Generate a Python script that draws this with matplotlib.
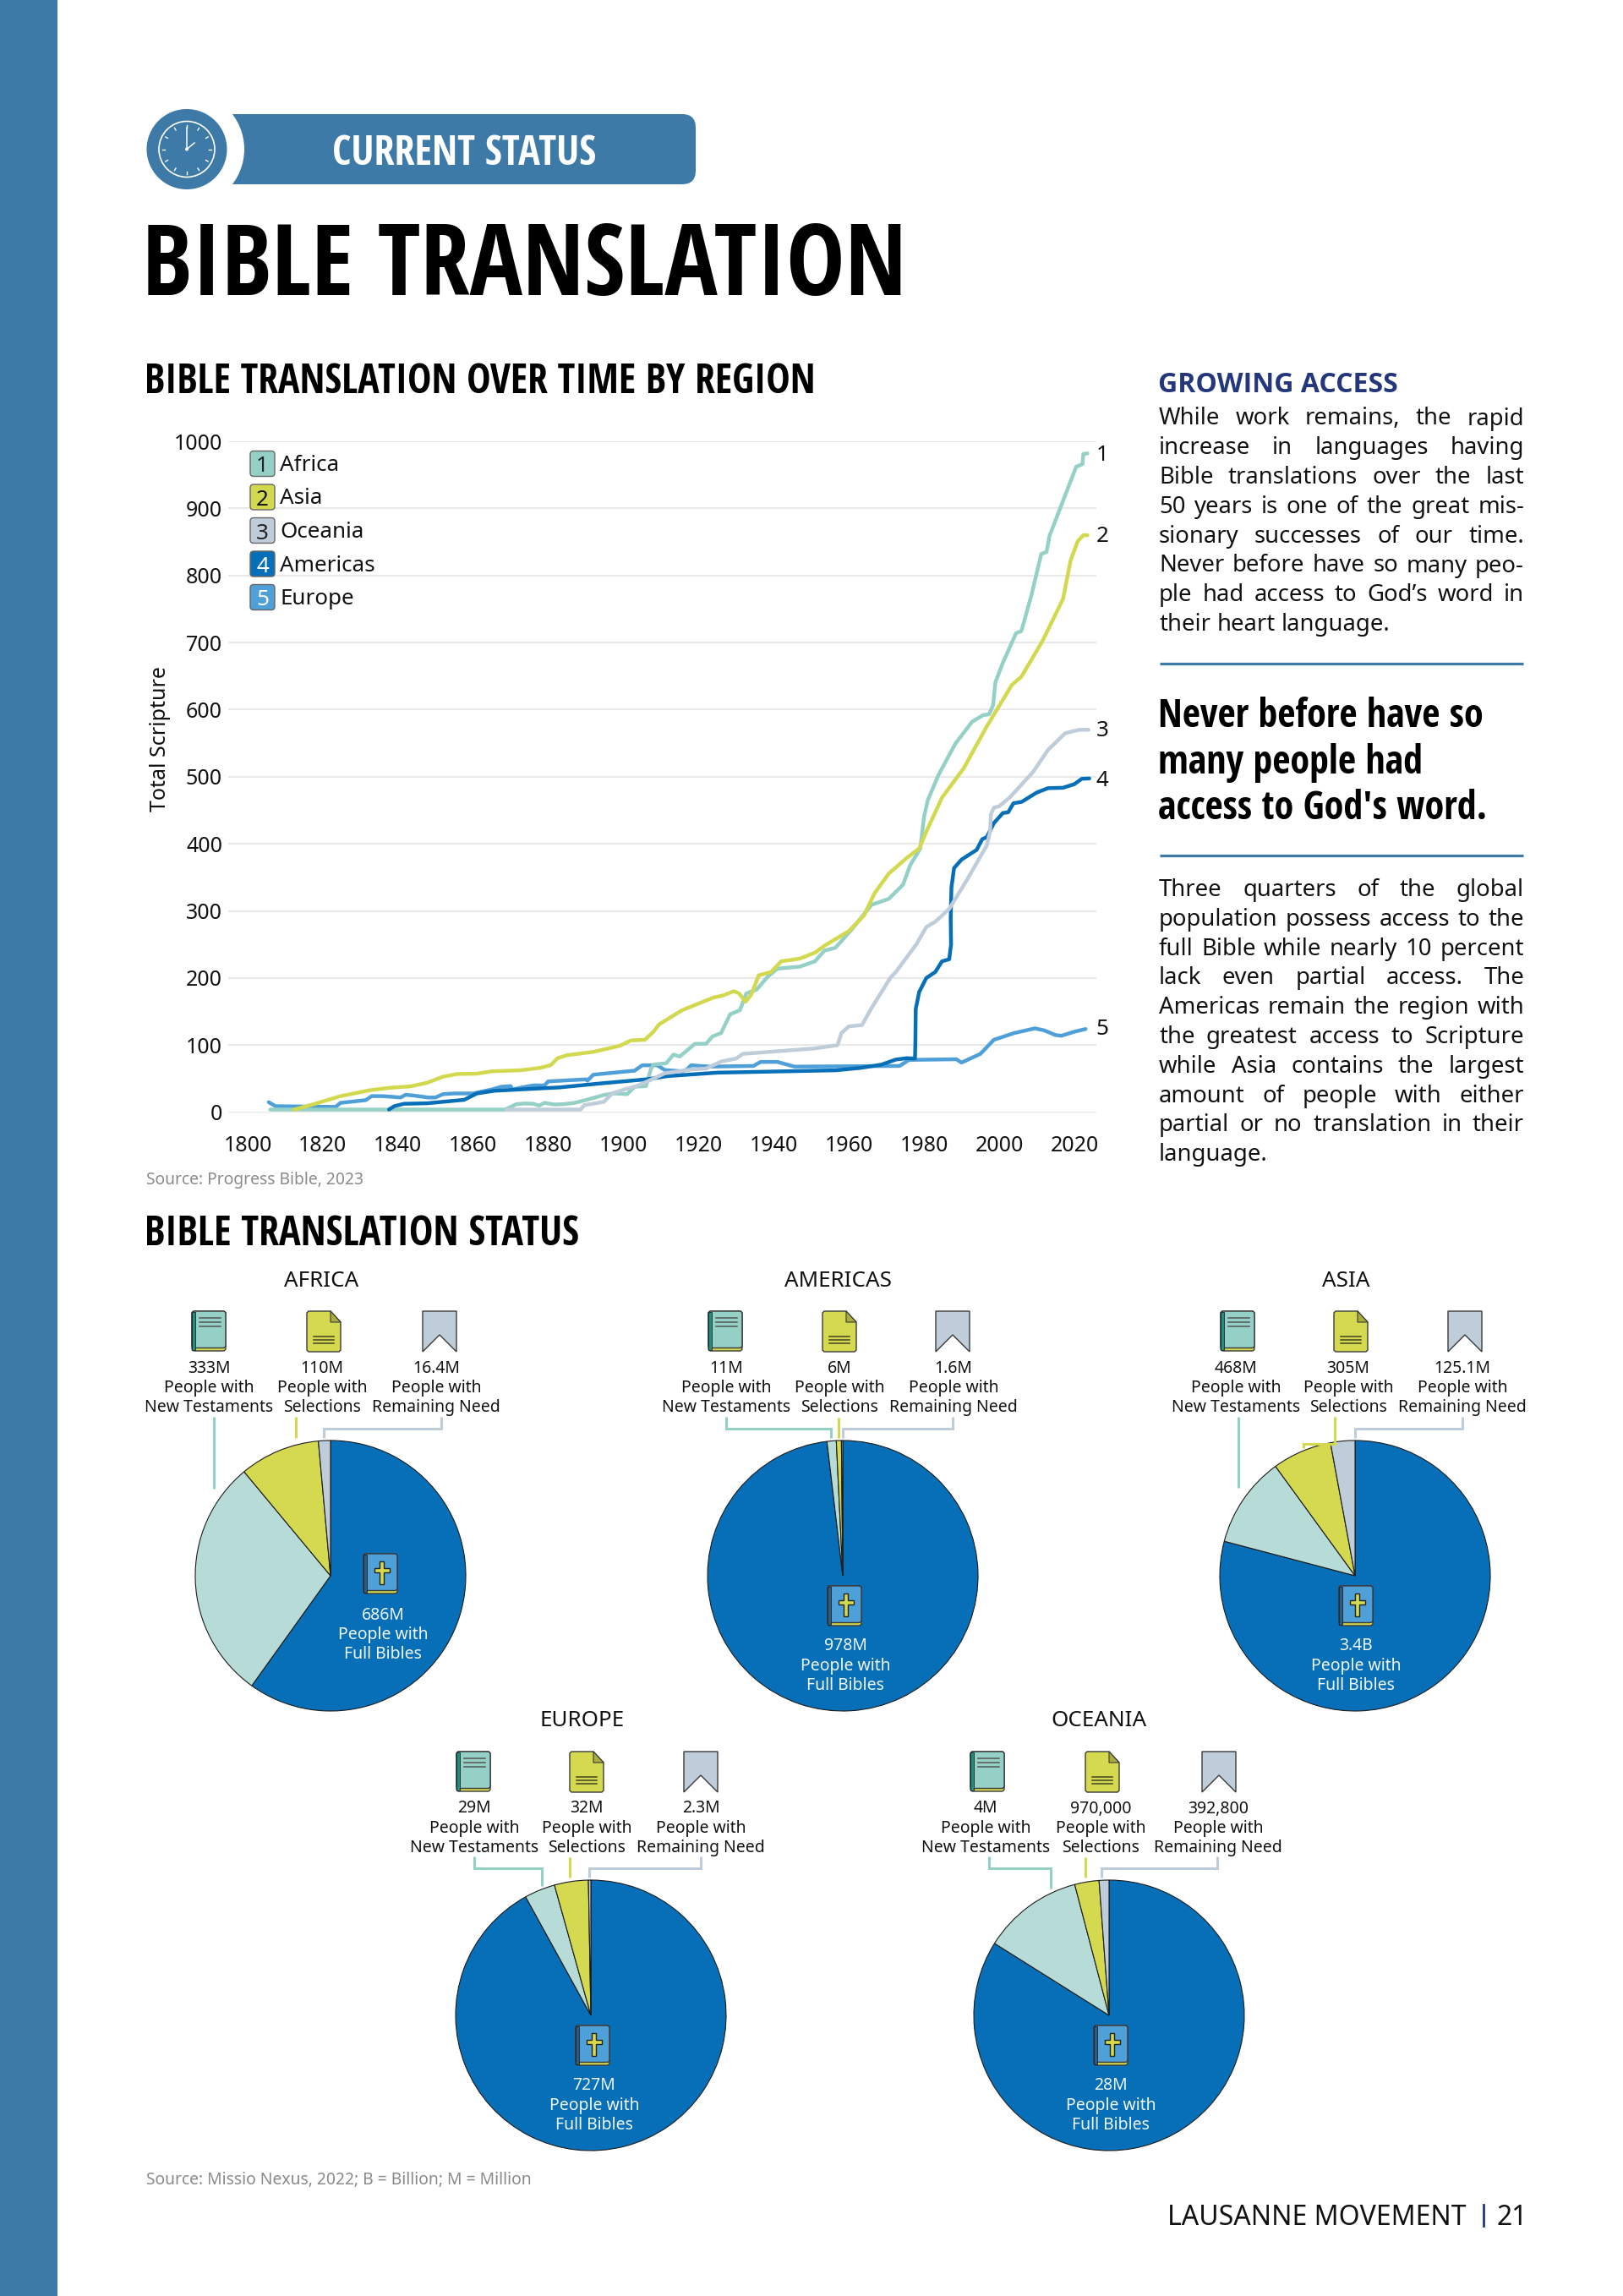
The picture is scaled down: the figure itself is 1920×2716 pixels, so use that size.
import matplotlib
matplotlib.use("Agg")
import matplotlib.pyplot as plt
from matplotlib import font_manager as fm
from matplotlib.patches import Circle, FancyBboxPatch, Polygon, Rectangle
import numpy as np

W, H = 1920, 2716
BLUE_BAR = "#3d7aa8"
C_AFR, C_ASI, C_OCE, C_AME, C_EUR = "#95d0c6", "#d3d94f", "#bfccd9", "#066fb7", "#4f9fd8"
C_NT = "#b7dcd7"

BODY = ["Noto Sans", "DejaVu Sans"]
names = sorted({f.name for f in fm.fontManager.ttflist})
COND = ["Noto Sans"]
for pick in ("Noto Sans Condensed", "Open Sans Condensed", "Roboto Condensed", "Liberation Sans Narrow"):
    if pick in names:
        COND = [pick]
        break


def has_bold(family):
    for f in fm.fontManager.ttflist:
        w = f.weight if isinstance(f.weight, int) else {"bold": 700, "semibold": 600, "demibold": 600}.get(f.weight, 400)
        if f.name == family and w >= 600 and f.style == "normal":
            return True
    return False


HEAD = ["DejaVu Sans"]
for pick in ("Noto Sans", "Open Sans", "Lato", "Roboto", "Inter"):
    if has_bold(pick):
        HEAD = [pick]
        break

# ---- line chart data -------------------------------------------------
africa_years = [1806, 1868.5, 1871.5, 1873.6, 1876, 1877.6, 1879, 1881.6, 1884, 1887, 1889.6, 1895, 1897.6, 1901, 1903, 1906, 1907.3, 1908, 1911.4, 1913.3, 1915, 1919, 1922, 1923.7, 1926, 1928.4, 1931, 1932.7, 1935.5, 1938.4, 1941, 1947, 1951, 1953.5, 1956.4, 1960.7, 1966, 1970.6, 1974.4, 1976.3, 1979, 1980, 1981, 1983.8, 1988.3, 1992.8, 1995.8, 1997.3, 1998.4, 1999, 2001, 2004.5, 2005.9, 2008.6, 2011.2, 2012.6, 2013.4, 2020.5, 2022.2, 2022.4, 2023.5]
africa_vals = [4, 4, 12, 13, 12.6, 10, 14, 11.5, 12, 14, 17.6, 26, 28, 27, 38, 39, 64, 71, 73, 86, 83, 102, 102, 113, 118, 146, 152, 177, 183, 202, 214, 217, 225, 241, 245, 272, 309, 318, 339, 368, 393, 440, 465, 502, 549, 582, 592, 593, 607, 641, 670, 714, 717, 771, 832, 835, 859, 962, 966, 981, 982]
asia_years = [1812.3, 1817.6, 1824.7, 1832.7, 1838, 1843.4, 1847.8, 1852, 1855.8, 1861, 1865, 1872.7, 1877.7, 1880.6, 1882.5, 1885, 1892, 1899, 1902, 1905.7, 1908, 1909.5, 1915.6, 1924, 1926.5, 1929.4, 1930.8, 1932.5, 1934, 1936, 1939.3, 1942, 1947, 1951, 1953.6, 1960, 1964, 1966.8, 1970.6, 1975.4, 1978.7, 1981, 1984.8, 1990.6, 1996.6, 2003.4, 2005.9, 2011.5, 2017, 2019, 2020.9, 2022.4, 2023.5]
asia_vals = [3.8, 12, 24, 33, 36.5, 38.6, 44, 53, 57, 57.5, 61, 62.6, 66, 70, 80.6, 85, 90, 99, 107, 108, 120, 131, 152, 171, 174, 180.5, 177, 164.6, 175, 204, 209, 225, 229, 238, 248.5, 270, 293, 326, 355.6, 379, 393, 423, 469, 513, 574, 637, 649, 702, 765, 822, 851, 860, 860]
oceania_years = [1869, 1888.6, 1889.6, 1894.8, 1897, 1900, 1903, 1906, 1911, 1918.5, 1922, 1926, 1930, 1931.8, 1950.7, 1957, 1958, 1960, 1963.5, 1965.9, 1971, 1972.5, 1978, 1980.6, 1983, 1986.7, 1991.5, 1996.7, 1997.6, 1997.8, 1998.6, 2000, 2002.8, 2009, 2013, 2017.6, 2021.3, 2023.8]
oceania_vals = [4, 4, 10.5, 15.5, 28, 33.6, 38, 45, 58, 64, 65, 75.6, 80, 87, 95, 100, 118, 128, 130, 154, 200, 209, 250.6, 276, 284, 303, 347, 397.5, 418.5, 444, 454, 456, 469, 507, 540, 565, 570, 570]
americas_years = [1837.6, 1839, 1841.6, 1847.8, 1857.6, 1861, 1865.6, 1883, 1894, 1906, 1912, 1925, 1956.4, 1963, 1968.7, 1972.5, 1975.4, 1977.6, 1977.7, 1977.8, 1978.7, 1980.6, 1983, 1984.8, 1986.7, 1987.2, 1987.1, 1987.3, 1988, 1990, 1994, 1995.5, 1996.7, 1998.6, 2001, 2002.4, 2003.8, 2006, 2010, 2013, 2017, 2020, 2022, 2024]
americas_vals = [4, 9, 12.6, 13.4, 18.5, 28, 32, 37, 43, 49, 54, 59, 62.5, 66, 71, 78.5, 80.6, 80, 104, 154, 179, 200, 209, 225, 228, 250, 288, 335, 364, 376.6, 391, 407, 410, 431, 446, 447, 460.5, 462.6, 476.5, 483, 483.6, 489, 497, 497.5]
europe_years = [1805.6, 1807.4, 1823.4, 1824.7, 1831.4, 1833, 1836, 1840.7, 1842, 1844, 1848, 1850, 1852, 1855, 1860, 1865, 1867.5, 1870, 1870.4, 1874, 1876, 1879, 1880, 1890, 1890.4, 1892, 1903, 1905, 1909, 1911, 1915.6, 1917, 1918, 1923, 1934.6, 1936.5, 1941, 1945.5, 1973.5, 1976, 1988.6, 1990, 1995, 1998.6, 2004, 2009.5, 2012, 2015, 2016.6, 2020, 2023]
europe_vals = [15, 9, 8, 14, 18, 24, 24, 22, 26, 25, 22, 22, 27, 28, 28, 34, 38, 39, 34, 38, 40, 40, 46, 49, 47, 56, 62, 70, 70, 63, 61, 64, 70, 68, 69, 75, 75, 68, 69, 78, 79, 74, 87, 108, 118, 125, 122, 115, 114, 120, 124]
region_names = ["Africa", "Asia", "Oceania", "Americas", "Europe"]
y_ticks = [0, 100, 200, 300, 400, 500, 600, 700, 800, 900, 1000]
x_ticks = [1800, 1820, 1840, 1860, 1880, 1900, 1920, 1940, 1960, 1980, 2000, 2020]

# ---- pie data (people, millions): full, NT, selections, remaining ----
pie_regions = ["AFRICA", "AMERICAS", "ASIA", "EUROPE", "OCEANIA"]
africa_pie = [686, 333, 110, 16.4]
americas_pie = [978, 11, 6, 1.6]
asia_pie = [3400, 468, 305, 125.1]
europe_pie = [727, 29, 32, 2.3]
oceania_pie = [28, 4, 0.97, 0.3928]
africa_labels = ["686M", "333M", "110M", "16.4M"]
americas_labels = ["978M", "11M", "6M", "1.6M"]
asia_labels = ["3.4B", "468M", "305M", "125.1M"]
europe_labels = ["727M", "29M", "32M", "2.3M"]
oceania_labels = ["28M", "4M", "970,000", "392,800"]

fig = plt.figure(figsize=(W / 100, H / 100), dpi=100, facecolor="white")


def axpx(x0, y0, x1, y1, **kw):
    return fig.add_axes([x0 / W, 1 - y1 / H, (x1 - x0) / W, (y1 - y0) / H], **kw)


def pt(px):
    return px * 0.72


# ---- line chart ------------------------------------------------------
PX_PER_YEAR = 4.445
ax = axpx(270, 522, 1297, 1315.7)
ax.set_xlim(1800 - (293 - 270) / PX_PER_YEAR, 1800 + (1297 - 293) / PX_PER_YEAR)
ax.set_ylim(0, 1000)
for s in ax.spines.values():
    s.set_visible(False)
ax.set_yticks(y_ticks)
ax.set_xticks(x_ticks)
ax.grid(axis="y", color="#e8e8e8", lw=1.5)
ax.set_axisbelow(True)
ax.tick_params(length=0, labelsize=pt(25), labelcolor="#111111", pad=5)
ax.tick_params(axis="x", pad=19.5)
for lab in ax.get_xticklabels() + ax.get_yticklabels():
    lab.set_family(BODY)
ax.patch.set_alpha(0)
series = [(europe_years, europe_vals, C_EUR, "5", 0), (africa_years, africa_vals, C_AFR, "1", -2),
          (asia_years, asia_vals, C_ASI, "2", -1), (americas_years, americas_vals, C_AME, "4", -3),
          (oceania_years, oceania_vals, C_OCE, "3", -1)]
for xs, ys, c, num, dy in series:
    ax.plot(xs, ys, color=c, lw=3.2, solid_capstyle="round", solid_joinstyle="round", clip_on=False)
    ax.annotate(num, xy=(2023.5, ys[-1]), xytext=(pt(10), pt(dy)), textcoords="offset points",
                fontsize=pt(26), family=BODY, color="#111111", va="center", ha="left",
                annotation_clip=False)

# ---- pies ------------------------------------------------------------
PIE_COLORS = [C_AME, C_NT, "#d4d94f", C_OCE]
R = 160
pie_centres = {"AFRICA": (391, 1864), "AMERICAS": (997, 1864), "ASIA": (1603, 1864),
               "EUROPE": (699, 2384), "OCEANIA": (1312, 2384)}
pie_values = {"AFRICA": africa_pie, "AMERICAS": americas_pie, "ASIA": asia_pie,
              "EUROPE": europe_pie, "OCEANIA": oceania_pie}
for name in pie_regions:
    cx, cy = pie_centres[name]
    pa = axpx(cx - R - 2, cy - R - 2, cx + R + 2, cy + R + 2)
    pa.pie(pie_values[name], startangle=90, counterclock=False, colors=PIE_COLORS, radius=1,
           wedgeprops=dict(edgecolor="#1c1c1c", linewidth=0.8))
    pa.set_xlim(-1.0125, 1.0125)
    pa.set_ylim(-1.0125, 1.0125)

# ---- page overlay ----------------------------------------------------
o = axpx(0, 0, W, H)
o.set_xlim(0, W)
o.set_ylim(H, 0)
o.axis("off")
o.patch.set_alpha(0)
o.add_patch(Rectangle((0, 0), 68, H, fc=BLUE_BAR, ec="none"))


def txt(x, y, s, px, fam=BODY, weight="normal", color="#111111", ha="left", va="baseline", **kw):
    return o.text(x, y, s, fontsize=pt(px), family=fam, weight=weight, color=color, ha=ha, va=va, **kw)


renderer = fig.canvas.get_renderer()


def measure(s, px, fam=BODY, weight="normal"):
    t = o.text(0, 0, s, fontsize=pt(px), family=fam, weight=weight)
    w = t.get_window_extent(renderer).width
    t.remove()
    return w


def fit(s, width, fam, weight="bold"):
    return 100 * width / measure(s, 100, fam, weight)


def justified(lines, x0, x1, y0, dy, px):
    space = measure("a a", px) - measure("aa", px)
    for i, line in enumerate(lines):
        words = line.split(" ")
        ws = [measure(w, px) for w in words]
        y = y0 + i * dy
        free = (x1 - x0) - sum(ws)
        is_last = i == len(lines) - 1
        gap = space if (is_last or len(words) == 1) else free / (len(words) - 1)
        x = x0
        for w, wd in zip(words, ws):
            txt(x, y, w, px)
            x += wd + gap


# header pill + clock
o.add_patch(FancyBboxPatch((250, 135), 573, 83, boxstyle="round,pad=0,rounding_size=16", fc=BLUE_BAR, ec="none"))
o.add_patch(Rectangle((240, 135), 30, 83, fc=BLUE_BAR, ec="none"))
o.add_patch(Circle((221, 176.5), 68, fc="white", ec="none", zorder=2))
o.add_patch(Circle((221, 176.5), 47.5, fc=BLUE_BAR, ec="none", zorder=3))
o.add_patch(Circle((221, 176.5), 33, fc="none", ec="white", lw=1.2, zorder=4))
for k in range(12):
    a = k * np.pi / 6
    o.plot([221 + 26 * np.sin(a), 221 + 29 * np.sin(a)], [176.5 - 26 * np.cos(a), 176.5 - 29 * np.cos(a)],
           color="white", lw=1.0, zorder=4)
o.plot([221, 221], [176.5, 151], color="white", lw=1.1, zorder=4)
o.plot([221, 230], [176.5, 169], color="white", lw=1.1, zorder=4)
o.add_patch(Circle((221, 176.5), 2, fc="white", ec="none", zorder=4))
ct = "CURRENT STATUS"
txt(549, 195, ct, fit(ct, 312, COND, "bold"), COND, "bold", "white", ha="center")

t0 = "BIBLE TRANSLATION"
txt(168, 349, t0, fit(t0, 904, COND), COND, "bold", "#000000")
t1 = "BIBLE TRANSLATION OVER TIME BY REGION"
txt(171, 465, t1, fit(t1, 793, COND), COND, "bold", "#000000")
t2 = "BIBLE TRANSLATION STATUS"
txt(171, 1473, t2, fit(t2, 514, COND), COND, "bold", "#000000")

# legend
leg_cols = [C_AFR, C_ASI, C_OCE, C_AME, C_EUR]
num_cols = ["#222222", "#111111", "#222222", "white", "white"]
for i, (nm, c) in enumerate(zip(region_names, leg_cols)):
    y = 533.5 + i * 39.5
    o.add_patch(FancyBboxPatch((296, y), 29, 30, boxstyle="round,pad=0,rounding_size=4", fc=c, ec="#666666", lw=1))
    txt(310.5, y + 15.5, str(i + 1), 26, color=num_cols[i], ha="center", va="center_baseline")
    txt(331, y + 14, nm, 26, va="center_baseline")

txt(189, 874, "Total Scripture", 25, ha="center", va="center", rotation=90)
txt(173, 1396, "Source: Progress Bible, 2023", 19.3, color="#8a8a8a", va="center")
txt(173, 2579, "Source: Missio Nexus, 2022; B = Billion; M = Million", 19.3, color="#8a8a8a", va="center")

# right column
ga = "GROWING ACCESS"
txt(1370, 464, ga, fit(ga, 283, HEAD), HEAD, "bold", "#25377c")
para1 = ["While work remains, the rapid", "increase in languages having", "Bible translations over the last",
         "50 years is one of the great mis-", "sionary successes of our time.", "Never before have so many peo-",
         "ple had access to God\u2019s word in", "their heart language."]
justified(para1, 1371, 1803, 502.5, 34.8, 27.5)
o.plot([1372, 1802], [784.5, 784.5], color=BLUE_BAR, lw=2.3, solid_capstyle="butt")
quote = ["Never before have so", "many people had", "access to God's word."]
qpx = fit(quote[2], 390, COND)
for i, q in enumerate(quote):
    txt(1370, 860.5 + i * 54.2, q, qpx, COND, "bold", "#000000")
o.plot([1372, 1802], [1012, 1012], color=BLUE_BAR, lw=2.3, solid_capstyle="butt")
para2 = ["Three quarters of the global", "population possess access to the", "full Bible while nearly 10 percent",
         "lack even partial access. The", "Americas remain the region with", "the greatest access to Scripture",
         "while Asia contains the largest", "amount of people with either", "partial or no translation in their",
         "language."]
justified(para2, 1371, 1803, 1060, 34.8, 27.5)

txt(1381, 2632, "LAUSANNE MOVEMENT", 32)
o.plot([1755, 1755], [2608, 2633], color="#25377c", lw=2)
txt(1770, 2632, "21", 32)


# icons
def rrect(x, y, w, h, fc, r=3, ec="#3a3a3a", lw=1.0, z=5):
    o.add_patch(FancyBboxPatch((x, y), w, h, boxstyle=f"round,pad=0,rounding_size={r}", fc=fc, ec=ec, lw=lw, zorder=z))


def book_base(cx, top, body, spine):
    w, h = 40, 47
    x = cx - w / 2
    rrect(x, top, w, h, "#d4d94f")
    rrect(x, top, w, h - 3.5, body)
    o.add_patch(Rectangle((x, top + 1), 3.5, h - 2, fc=spine, ec="#222222", lw=0.6, zorder=6))


def nt_icon(cx, top):
    book_base(cx, top, C_AFR, "#1f8f7f")
    for dy in (8, 13, 18):
        o.plot([cx - 11, cx + 14], [top + dy, top + dy], color="#555555", lw=1.1, zorder=7)


def doc_icon(cx, top):
    w, h = 40, 48
    x = cx - w / 2
    o.add_patch(Polygon([(x + 2, top), (x + w - 12, top), (x + w, top + 13), (x + w, top + h - 2), (x + w - 2, top + h),
                         (x + 2, top + h), (x, top + h - 2), (x, top + 2)], closed=True, fc="#d4d94f", ec="#3a3a3a", lw=1, zorder=5))
    o.add_patch(Polygon([(x + w - 12, top), (x + w, top + 13), (x + w - 12, top + 13)], closed=True, fc="#a8ad3e", ec="#3a3a3a", lw=0.8, zorder=6))
    for dy in (30, 34, 38):
        o.plot([cx - 12, cx + 12], [top + dy, top + dy], color="#444422", lw=1.1, zorder=7)


def mark_icon(cx, top):
    w, h = 40, 48
    x = cx - w / 2
    o.add_patch(Polygon([(x, top), (x + w, top), (x + w, top + h), (cx, top + 28), (x, top + h)], closed=True,
                        fc=C_OCE, ec="#3a3a3a", lw=1, zorder=5))


def bible_icon(cx, top):
    book_base(cx, top, C_EUR, "#2a5d86")
    c = cx + 1.5
    cross = [(c - 2.8, top + 9), (c + 2.8, top + 9), (c + 2.8, top + 17), (c + 9, top + 17), (c + 9, top + 22),
             (c + 2.8, top + 22), (c + 2.8, top + 36), (c - 2.8, top + 36), (c - 2.8, top + 22), (c - 9, top + 22),
             (c - 9, top + 17), (c - 2.8, top + 17)]
    o.add_patch(Polygon(cross, closed=True, fc="#d4d94f", ec="#222222", lw=1, zorder=7))


def connector(pts, color):
    xs, ys = zip(*pts)
    o.plot(xs, ys, color=color, lw=2.2, solid_joinstyle="miter", solid_capstyle="butt", zorder=4)


# titles, icon columns, labels, connectors, centre icon
labels_by_region = {"AFRICA": africa_labels, "AMERICAS": americas_labels, "ASIA": asia_labels,
                    "EUROPE": europe_labels, "OCEANIA": oceania_labels}
layout = {
    "AFRICA": dict(title=(380, 1512), base=1616, icons=(247, 383, 520), texts=(247, 381, 516), bible=(450, 1838), btext=(453, 1908),
                   conn=([(253, 1676), (253, 1761)], [(349.5, 1676), (349.5, 1701)], [(522, 1676), (522, 1690), (383, 1690), (383, 1701)])),
    "AMERICAS": dict(title=(991, 1512), base=1616, icons=(858, 993, 1127), texts=(859, 993, 1128), bible=(999, 1876), btext=(1000, 1945),
                     conn=([(859, 1676), (859, 1690), (983, 1690), (983, 1701)], [(992, 1677), (992, 1701)], [(1127, 1676), (1127, 1690), (997, 1690), (997, 1701)])),
    "ASIA": dict(title=(1592, 1512), base=1616, icons=(1464, 1598, 1733), texts=(1462, 1595, 1730), bible=(1604, 1876), btext=(1604, 1945),
                 conn=([(1465, 1676), (1465, 1760)], [(1579, 1676), (1579, 1708), (1542, 1708), (1542, 1713)], [(1730, 1676), (1730, 1690), (1603, 1690), (1603, 1701)])),
    "EUROPE": dict(title=(689, 2032), base=2137, icons=(560, 694, 829), texts=(561, 694, 829), bible=(701, 2396), btext=(703, 2465),
                   conn=([(561, 2196), (561, 2210), (641, 2210), (641, 2231)], [(674, 2197), (674, 2221)], [(829, 2196), (829, 2210), (697, 2210), (697, 2221)])),
    "OCEANIA": dict(title=(1300, 2032), base=2137, icons=(1168, 1304, 1442), texts=(1166, 1302, 1441), bible=(1314, 2396), btext=(1314, 2465),
                    conn=([(1170, 2196), (1170, 2210), (1243, 2210), (1243, 2234)], [(1284, 2197), (1284, 2221)], [(1440, 2196), (1440, 2210), (1303, 2210), (1303, 2221)])),
}
SECOND = ["New Testaments", "Selections", "Remaining Need"]
CONN_COLS = [C_AFR, C_ASI, C_OCE]
for name in pie_regions:
    L = layout[name]
    labs = labels_by_region[name]
    txt(L["title"][0], L["title"][1], name, 26, ha="center", va="center_baseline")
    top = L["base"] - 65
    nt_icon(L["icons"][0], top)
    doc_icon(L["icons"][1], top)
    mark_icon(L["icons"][2], top)
    for j in range(3):
        x = L["texts"][j]
        for k, s in enumerate([labs[j + 1], "People with", SECOND[j]]):
            txt(x, L["base"] + k * 23.4, s, 19.4, ha="center", va="center_baseline")
        connector(L["conn"][j], CONN_COLS[j])
    bible_icon(L["bible"][0], L["bible"][1])
    bx, by = L["btext"]
    for k, s in enumerate([labs[0], "People with", "Full Bibles"]):
        txt(bx, by + k * 23.4, s, 19.4, color="#f2f7fb", ha="center", va="center_baseline")

fig.savefig("out.png", dpi=100, facecolor="white")
